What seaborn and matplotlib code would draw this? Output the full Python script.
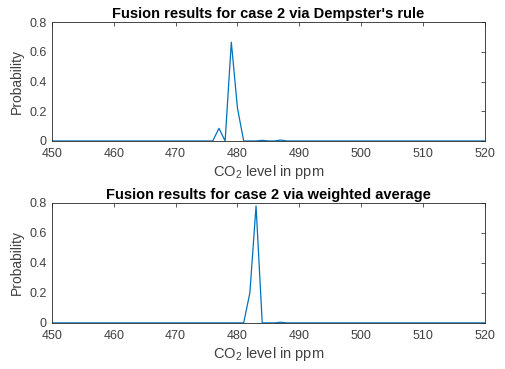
import numpy as np
import pandas as pd
import matplotlib
matplotlib.use("Agg")
import matplotlib.pyplot as plt
import seaborn as sns

# CO2 levels (ppm) evaluated, one per integer
co2_levels = list(range(450, 521))

# non-zero probabilities, everything else is 0
dempster_peaks = {477: 0.085, 479: 0.665, 480: 0.22, 484: 0.004, 487: 0.006}
weighted_peaks = {482: 0.20, 483: 0.78, 487: 0.004}

titles = ["Fusion results for case 2 via Dempster's rule",
          "Fusion results for case 2 via weighted average"]
y_ticks = [0, 0.2, 0.4, 0.6, 0.8]
x_ticks = [450, 460, 470, 480, 490, 500, 510, 520]


def build_series(peaks):
    return pd.DataFrame({"co2": co2_levels,
                         "prob": [peaks.get(c, 0.0) for c in co2_levels]})


sns.set_style("white")
plt.rcParams["font.family"] = ["Liberation Sans", "DejaVu Sans"]
plt.rcParams["mathtext.fontset"] = "custom"
plt.rcParams["mathtext.rm"] = "Liberation Sans"
plt.rcParams["mathtext.it"] = "Liberation Sans:italic"

fig = plt.figure(figsize=(5.05, 3.69), dpi=100)
ax_top = fig.add_axes([0.103, 0.618, 0.857, 0.322])
ax_bot = fig.add_axes([0.103, 0.125, 0.857, 0.325])

for ax, peaks, title in zip([ax_top, ax_bot], [dempster_peaks, weighted_peaks], titles):
    df = build_series(peaks)
    sns.lineplot(data=df, x="co2", y="prob", ax=ax, color="#0072BD", linewidth=0.9)
    ax.set_xlim(450, 520)
    ax.set_ylim(0, 0.8)
    ax.set_xticks(x_ticks)
    ax.set_yticks(y_ticks)
    ax.set_yticklabels(["0", "0.2", "0.4", "0.6", "0.8"])
    ax.tick_params(direction="in", length=3, width=0.6, colors="#404040",
                   labelsize=9, top=True, right=True)
    ax.tick_params(axis="x", pad=5)
    ax.tick_params(axis="y", pad=4)
    for s in ax.spines.values():
        s.set_color("#262626")
        s.set_linewidth(0.6)
    ax.set_title(title, fontsize=10.5, fontweight="bold", pad=3, color="black")
    ax.set_xlabel("CO$_2$ level in ppm", fontsize=10.5, color="#404040", labelpad=2)
    ax.set_ylabel("Probability", fontsize=10, color="#404040", labelpad=3.5)

fig.savefig("out.png", dpi=100)
plt.close(fig)
